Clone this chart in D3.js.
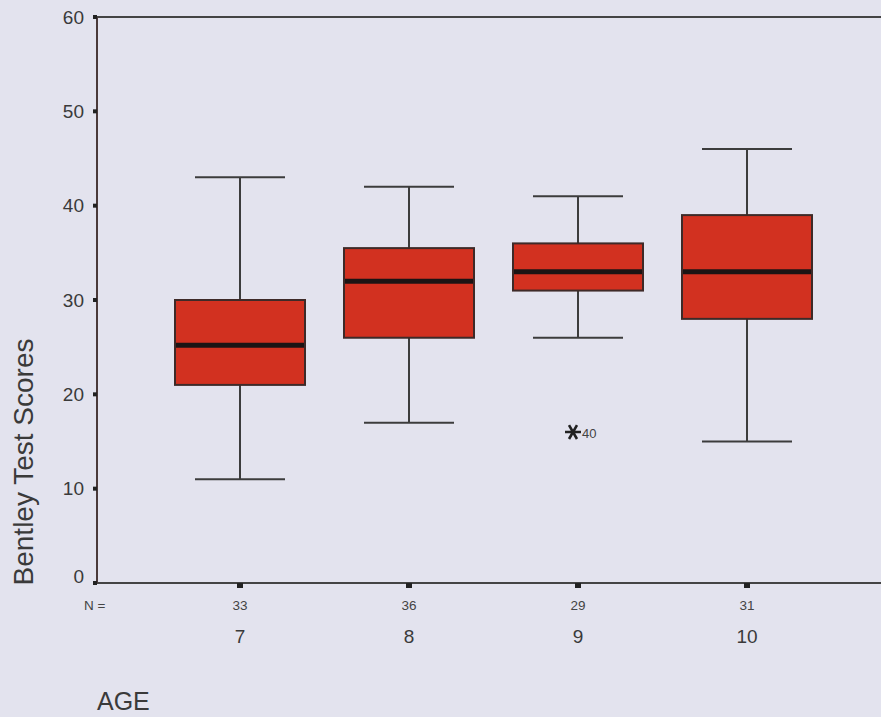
<!DOCTYPE html>
<html><head><meta charset="utf-8">
<script src="https://cdn.jsdelivr.net/npm/d3@7"></script>
<style>
html,body{margin:0;padding:0;background:#e3e3ee;}
svg{display:block;font-family:"Liberation Sans",Arial,sans-serif;}
</style></head>
<body>
<svg id="chart" width="881" height="717"></svg>
<script>
const categories = ["7","8","9","10"];
const counts = [33,36,29,31];
const whiskerLow = [11,17,26,15];
const q1 = [21,26,31,28];
const median = [25.2,32,33,33];
const q3 = [30,35.5,36,39];
const whiskerHigh = [43,42,41,46];
const outliers = [{cat:"9", value:16, label:"40"}];
const yTicks = [0,10,20,30,40,50,60];

const svg = d3.select("#chart");
const x0 = 97, yTop = 17, yBot = 583;
const x = d3.scalePoint().domain(categories).range([240,747]);
const y = d3.scaleLinear().domain([0,60]).range([yBot,yTop]);
const boxW = 130, capW = 90;
const ink = "#3c3c3c";

// frame: top line and axes
svg.append("line").attr("x1",x0).attr("x2",881).attr("y1",y(60)).attr("y2",y(60))
  .attr("stroke","#444").attr("stroke-width",2);
svg.append("line").attr("x1",x0).attr("x2",881).attr("y1",y(0)).attr("y2",y(0))
  .attr("stroke","#444").attr("stroke-width",2);
svg.append("line").attr("x1",x0).attr("x2",x0).attr("y1",y(60)).attr("y2",y(0))
  .attr("stroke","#4a3a3a").attr("stroke-width",2);

// y ticks
const yAxis = svg.append("g");
yTicks.forEach(t=>{
  yAxis.append("rect").attr("x",x0-4).attr("y",y(t)-2).attr("width",4).attr("height",4).attr("fill","#222");
  yAxis.append("text").attr("x",x0-13).attr("y",y(t) - (t===0?7:0)).attr("dy","0.35em")
    .attr("text-anchor","end").attr("font-size",19).attr("fill","#3a3a3a").text(t);
});

// x ticks
const xAxis = svg.append("g");
categories.forEach((c,i)=>{
  xAxis.append("rect").attr("x",x(c)-3).attr("y",yBot).attr("width",6).attr("height",5).attr("fill","#222");
  xAxis.append("text").attr("x",x(c)).attr("y",610)
    .attr("text-anchor","middle").attr("font-size",13.5).attr("fill","#444").text(counts[i]);
  xAxis.append("text").attr("x",x(c)).attr("y",643)
    .attr("text-anchor","middle").attr("font-size",19).attr("fill","#3a3a3a").text(c);
});
svg.append("text").attr("x",84).attr("y",610).attr("font-size",13.5)
  .attr("fill","#444").text("N =");

// boxes
const g = svg.append("g");
categories.forEach((c,i)=>{
  const cx = x(c);
  g.append("line").attr("x1",cx).attr("x2",cx).attr("y1",y(whiskerHigh[i])).attr("y2",y(q3[i]))
    .attr("stroke",ink).attr("stroke-width",2);
  g.append("line").attr("x1",cx).attr("x2",cx).attr("y1",y(q1[i])).attr("y2",y(whiskerLow[i]))
    .attr("stroke",ink).attr("stroke-width",2);
  g.append("line").attr("x1",cx-capW/2).attr("x2",cx+capW/2).attr("y1",y(whiskerHigh[i])).attr("y2",y(whiskerHigh[i]))
    .attr("stroke",ink).attr("stroke-width",2);
  g.append("line").attr("x1",cx-capW/2).attr("x2",cx+capW/2).attr("y1",y(whiskerLow[i])).attr("y2",y(whiskerLow[i]))
    .attr("stroke",ink).attr("stroke-width",2);
  g.append("rect").attr("x",cx-boxW/2).attr("y",y(q3[i])).attr("width",boxW)
    .attr("height",y(q1[i])-y(q3[i])).attr("fill","#d23120").attr("stroke","#3e2a28").attr("stroke-width",2);
  g.append("line").attr("x1",cx-boxW/2+1).attr("x2",cx+boxW/2-1).attr("y1",y(median[i])).attr("y2",y(median[i]))
    .attr("stroke","#1c1414").attr("stroke-width",5);
});

// outliers
outliers.forEach(o=>{
  const cx = x(o.cat), cy = y(o.value);
  g.append("path").attr("d",d3.symbol(d3.symbolAsterisk,180)())
    .attr("transform",`translate(${cx-5},${cy}) rotate(90)`)
    .attr("stroke","#222").attr("stroke-width",2.6).attr("fill","none");
  g.append("text").attr("x",cx+4).attr("y",cy+1).attr("dy","0.35em").attr("font-size",13)
    .attr("fill","#444").text(o.label);
});

// titles
svg.append("text").attr("transform","translate(33,462) rotate(-90)")
  .attr("text-anchor","middle").attr("font-size",28).attr("fill","#3a3a3a").text("Bentley Test Scores");
svg.append("text").attr("x",97).attr("y",710).attr("font-size",25)
  .attr("fill","#3a3a3a").text("AGE");
</script>
</body></html>
